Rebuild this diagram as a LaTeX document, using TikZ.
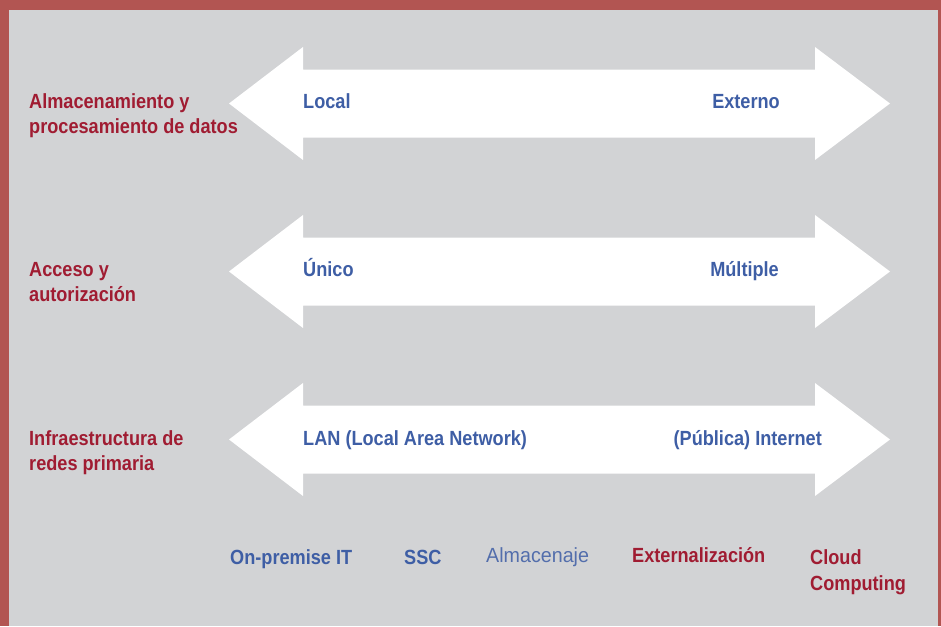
\documentclass[tikz,border=0pt]{standalone}
\usepackage{fontspec}
\newfontfamily\condsans[FakeStretch=0.885]{Liberation Sans}
\newfontfamily\plainsans[FakeStretch=0.96]{Liberation Sans}
\definecolor{frame}{HTML}{B25552}
\definecolor{bg}{HTML}{D2D3D5}
\definecolor{lbred}{HTML}{A01C32}
\definecolor{lbblue}{HTML}{3E5EA5}
\definecolor{lbblight}{HTML}{536EAC}
\begin{document}
\begin{tikzpicture}[x=1pt,y=-1pt,
  txt/.style={inner sep=0pt,anchor=base west,font=\condsans\bfseries\fontsize{20.5}{25}\selectfont},
  redlbl/.style={txt,text=lbred},
  bluelbl/.style={txt,text=lbblue}]
\useasboundingbox (0,0) rectangle (941,626);
\fill[frame] (0,0) rectangle (941,626);
\fill[bg] (9,10) rectangle (938,626);
% arrows
\foreach \c in {103.5,271.5,439.5}{
  \fill[white] (229,\c) -- (303,\c-56.5) -- (303,\c-34) -- (815,\c-34) -- (815,\c-56.5)
    -- (890,\c) -- (815,\c+56.5) -- (815,\c+34) -- (303,\c+34) -- (303,\c+56.5) -- cycle;
}
% row 1
\node[redlbl] (l1a) at (29,108.5) {Almacenamiento y};
\node[redlbl] (l1b) at (29,133.5) {procesamiento de datos};
\node[bluelbl] (a1l) at (303,108.5) {Local};
\node[bluelbl,anchor=base east] (a1r) at (780,108.5) {Externo};
% row 2
\node[redlbl] (l2a) at (29,276.5) {Acceso y};
\node[redlbl] (l2b) at (29,301.5) {autorización};
\node[bluelbl] (a2l) at (303,276.5) {Único};
\node[bluelbl,anchor=base east] (a2r) at (779,276.5) {Múltiple};
% row 3
\node[redlbl] (l3a) at (29,445.5) {Infraestructura de};
\node[redlbl] (l3b) at (29,470.5) {redes primaria};
\node[bluelbl] (a3l) at (303,445.5) {LAN (Local Area Network)};
\node[bluelbl,anchor=base east] (a3r) at (822,445.5) {(Pública) Internet};
% bottom row
\node[bluelbl] (b1) at (230,564) {On-premise IT};
\node[bluelbl] (b2) at (404,564) {SSC};
\node[txt,font=\plainsans\fontsize{20.5}{25}\selectfont,text=lbblight] (b3) at (486,562) {Almacenaje};
\node[redlbl] (b4) at (632,562) {Externalización};
\node[redlbl] (b5a) at (810,564) {Cloud};
\node[redlbl] (b5b) at (810,590) {Computing};
\end{tikzpicture}
\end{document}
